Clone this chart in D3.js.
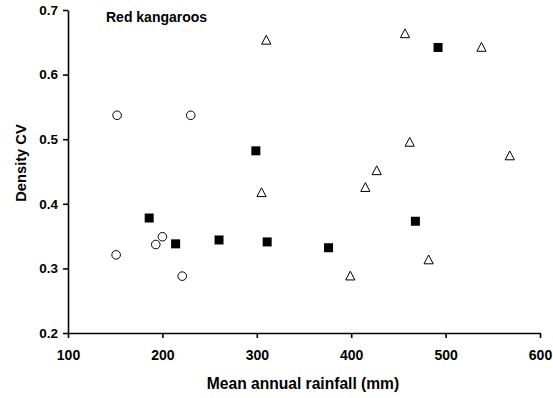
<!DOCTYPE html>
<html>
<head>
<meta charset="utf-8">
<script src="https://cdn.jsdelivr.net/npm/d3@7"></script>
<style>
  html, body { margin: 0; padding: 0; background: #fff; }
  svg { display: block; font-family: "Liberation Sans", Arial, sans-serif; }
</style>
</head>
<body>
<svg id="chart" width="553" height="398"></svg>
<script>
// Rainfall (mm) and density CV for each site group
const circleRain = [152, 230, 151, 193, 200, 221];
const circleCV   = [0.537, 0.537, 0.321, 0.337, 0.349, 0.288];

const squareRain = [186, 214, 260, 299, 311, 376, 468, 492];
const squareCV   = [0.378, 0.338, 0.344, 0.482, 0.341, 0.332, 0.373, 0.642];

const triangleRain = [310, 305, 457, 538, 462, 568, 427, 415, 399, 482];
const triangleCV   = [0.653, 0.417, 0.663, 0.642, 0.495, 0.474, 0.451, 0.425, 0.288, 0.313];

const xTicks = [100, 200, 300, 400, 500, 600];
const yTicks = [0.2, 0.3, 0.4, 0.5, 0.6, 0.7];

const svg = d3.select("#chart");
const x = d3.scaleLinear().domain([100, 600]).range([68, 540]);
const y = d3.scaleLinear().domain([0.2, 0.7]).range([333, 10]);

// Axes
const xAxis = svg.append("g")
  .attr("transform", `translate(0,${y(0.2)})`)
  .call(d3.axisBottom(x).tickValues(xTicks).tickSize(5).tickSizeOuter(0).tickPadding(12).tickFormat(d3.format("d")));
const yAxis = svg.append("g")
  .attr("transform", `translate(${x(100)},0)`)
  .call(d3.axisLeft(y).tickValues(yTicks).tickSize(5).tickSizeOuter(0).tickPadding(5).tickFormat(d3.format(".1f")));

[xAxis, yAxis].forEach(g => {
  g.selectAll("path, line").attr("stroke", "#000").attr("stroke-width", 1.6);
  g.selectAll("text")
    .attr("fill", "#000")
    .style("font-weight", "bold")
    .style("font-family", "'Liberation Sans', Arial, sans-serif");
});
xAxis.selectAll("text").style("font-size", "14px");
yAxis.selectAll("text").style("font-size", "13.5px");

// Axis titles
svg.append("text")
  .attr("x", 303)
  .attr("y", 389)
  .attr("text-anchor", "middle")
  .style("font-size", "15.6px")
  .style("font-weight", "bold")
  .text("Mean annual rainfall (mm)");

svg.append("text")
  .attr("transform", `translate(25.5,163) rotate(-90)`)
  .attr("text-anchor", "middle")
  .style("font-size", "14.7px")
  .style("font-weight", "bold")
  .text("Density CV");

svg.append("text")
  .attr("x", 106)
  .attr("y", 22)
  .style("font-size", "14px")
  .style("font-weight", "bold")
  .text("Red kangaroos");

// Markers
const circles = circleRain.map((r, i) => ({ r, cv: circleCV[i] }));
const squares = squareRain.map((r, i) => ({ r, cv: squareCV[i] }));
const triangles = triangleRain.map((r, i) => ({ r, cv: triangleCV[i] }));

svg.append("g").selectAll("circle").data(circles).join("circle")
  .attr("cx", d => x(d.r))
  .attr("cy", d => y(d.cv))
  .attr("r", 4.3)
  .attr("fill", "#fff")
  .attr("stroke", "#000")
  .attr("stroke-width", 1);

svg.append("g").selectAll("path").data(squares).join("path")
  .attr("transform", d => `translate(${x(d.r)},${y(d.cv)})`)
  .attr("d", d3.symbol(d3.symbolSquare, 81))
  .attr("fill", "#000");

svg.append("g").selectAll("path").data(triangles).join("path")
  .attr("transform", d => `translate(${x(d.r)},${y(d.cv)})`)
  .attr("d", "M0,-5 L4.6,3.8 L-4.6,3.8 Z")
  .attr("fill", "#fff")
  .attr("stroke", "#000")
  .attr("stroke-width", 1);
</script>
</body>
</html>
